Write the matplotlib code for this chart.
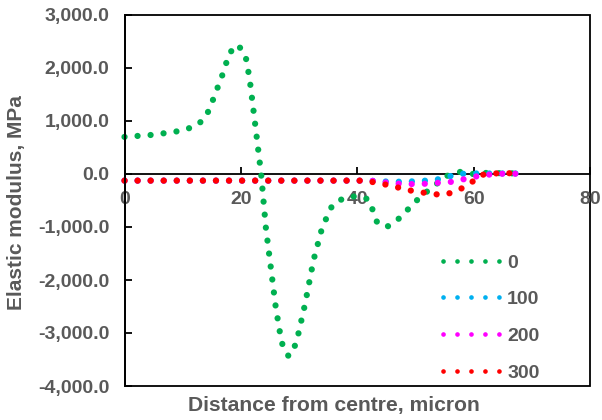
import matplotlib
matplotlib.use("Agg")
import matplotlib.pyplot as plt
from matplotlib.patches import Rectangle
from matplotlib.ticker import FuncFormatter

# ---- data ----
green_x = [0, 5, 10, 12.5, 14, 15, 17, 18, 19.5, 20.8, 21.5, 22.5, 23.5, 24.3, 26.0,
           27.0, 28.2, 29.5, 31.0, 32.5, 34.0, 35.8, 37.8, 40.0, 42.0, 43.5, 45.3,
           47.3, 50.0, 52.0, 55.3, 57.7, 59.8, 62, 65, 68.5]
green_y = [700, 740, 820, 920, 1080, 1340, 1920, 2280, 2440, 2230, 1800, 900, -20,
           -1020, -2520, -3180, -3440, -3200, -2470, -1620, -1000, -570, -450, -415,
           -480, -940, -985, -830, -520, -330, -40, 40, 0, 20, 15, 10]

blue_x = [0, 10, 20, 30, 40, 43, 45.5, 48, 50.5, 53, 55, 57, 60, 64, 68]
blue_y = [-125, -125, -125, -125, -125, -130, -145, -145, -135, -115, -80, 0, 10, 10, 10]

magenta_x = [0, 10, 20, 30, 40, 43, 45.5, 48, 50.5, 52.5, 54.7, 56.8, 58.9, 61.2, 64, 68]
magenta_y = [-125, -125, -125, -125, -125, -130, -170, -190, -190, -180, -157, -145, -80, -30, 5, 5]

red_x = [0, 10, 20, 30, 40, 41.5, 43.7, 45.9, 47.9, 50.1, 52.3, 54.5, 56.6, 58.5,
         60.4, 61.2, 63, 66, 68]
red_y = [-125, -125, -125, -125, -125, -126, -176, -220, -283, -333, -365, -396, -345,
         -240, -100, -20, 10, 15, 10]

series_labels = ["0", "100", "200", "300"]
series_colors = ["#00B050", "#00B0F0", "#FF00FF", "#FF0000"]

x_ticks = [0, 20, 40, 60, 80]
y_ticks = [3000, 2000, 1000, 0, -1000, -2000, -3000, -4000]

TEXT = "#595959"
plt.rcParams['font.family'] = ['Liberation Sans', 'DejaVu Sans']
plt.rcParams['font.weight'] = 'bold'
FS = 14

fig = plt.figure(figsize=(6.02, 4.20), dpi=100)
ax = fig.add_axes([124.5 / 602, (420 - 386) / 420, (590 - 124.5) / 602, (386 - 15) / 420])

dot = (0, (0.01, 2.08))
for xs, ys, lab, col in zip([green_x, blue_x, magenta_x, red_x],
                            [green_y, blue_y, magenta_y, red_y],
                            series_labels, series_colors):
    ax.plot(xs, ys, color=col, lw=4.5, linestyle=dot, dash_capstyle='round',
            label=lab, clip_on=False)

ax.set_xlim(0, 80)
ax.set_ylim(-4000, 3000)
ax.set_xticks(x_ticks)
ax.set_yticks(y_ticks)
ax.yaxis.set_major_formatter(FuncFormatter(lambda v, p: f"{v:,.1f}"))

for s in ['top', 'right']:
    ax.spines[s].set_visible(False)
ax.spines['bottom'].set_position(('data', 0))
ax.spines['bottom'].set_zorder(1)
for s in ['bottom', 'left']:
    ax.spines[s].set_color('black')
    ax.spines[s].set_linewidth(1.3)
ax.add_patch(Rectangle((0, 0), 1, 1, transform=ax.transAxes, fill=False,
                       edgecolor='black', lw=1.3, clip_on=False, zorder=0.5))

ax.tick_params(axis='x', direction='in', length=5, width=1.3, pad=12,
               labelsize=FS, labelcolor=TEXT)
ax.tick_params(axis='y', direction='in', length=5, width=1.3, pad=11,
               labelsize=FS, labelcolor=TEXT)

ax.set_xlabel("Distance from centre, micron", fontsize=15.2, color=TEXT,
              fontweight='bold', labelpad=0)
ax.xaxis.set_label_coords(0.45, -0.026, transform=ax.transAxes)
ax.xaxis.label.set_va('top')
ax.set_ylabel("Elastic modulus, MPa", fontsize=15, color=TEXT, fontweight='bold')
ax.yaxis.set_label_coords(-0.212, 0.495)

leg = ax.legend(loc='upper left', bbox_to_anchor=(443 / 602, 1 - 254 / 420),
                bbox_transform=fig.transFigure, frameon=False, fontsize=FS,
                handlelength=2.95, handletextpad=0.35, labelspacing=0.98,
                borderpad=0, borderaxespad=0)
for t in leg.get_texts():
    t.set_color(TEXT)
for h in leg.get_lines():
    h.set_linewidth(3.4)
    h.set_linestyle((0, (0.01, 2.95)))

fig.savefig("out.png", dpi=100)
